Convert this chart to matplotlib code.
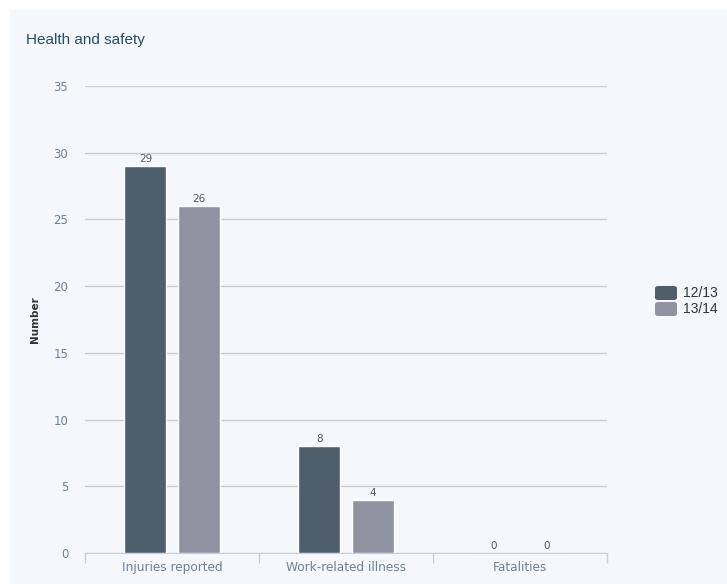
import numpy as np
import matplotlib.pyplot as plt
from matplotlib.patches import Rectangle, FancyBboxPatch

categories = ["Injuries reported", "Work-related illness", "Fatalities"]
series_names = ["12/13", "13/14"]
values_1213 = [29, 8, 0]
values_1314 = [26, 4, 0]
colors = ["#4e5f6b", "#8f939f"]

fig = plt.figure(figsize=(7.27, 5.84), dpi=100)
fig.patch.set_facecolor("white")
# light panel behind the chart
fig.patches.append(Rectangle((10 / 727, 0), 1, 1 - 10 / 584, transform=fig.transFigure,
                             facecolor="#f4f7fb", edgecolor="none", zorder=-10))

ax = fig.add_axes([85 / 727, 31 / 584, 522 / 727, 467 / 584])
ax.set_facecolor("none")

x = np.arange(len(categories))
w = 0.24
off = 0.153
for vals, col, sign in [(values_1213, colors[0], -1), (values_1314, colors[1], 1)]:
    bars = ax.bar(x + sign * off, vals, width=w, color=col, edgecolor="white", linewidth=1, zorder=3)
    for b, v in zip(bars, vals):
        ax.text(b.get_x() + b.get_width() / 2, v + 0.15, str(v), ha="center", va="bottom",
                fontsize=7.5, color="#555555", zorder=4)

ax.set_xlim(-0.5, 2.5)
ax.set_ylim(0, 35)
ax.set_yticks(range(0, 36, 5))
ax.yaxis.grid(True, color="#cccccc", linewidth=1)
ax.set_axisbelow(True)
for s in ["top", "right", "left"]:
    ax.spines[s].set_visible(False)
ax.spines["bottom"].set_color("#c0d0e0")
ax.tick_params(axis="y", length=0, labelsize=8.5, labelcolor="#6e8098", pad=12)

ax.set_xticks(x)
ax.set_xticklabels(categories)
ax.tick_params(axis="x", length=0, labelsize=8.7, labelcolor="#6e8098", pad=6)
ax.set_xticks([-0.5, 0.5, 1.5, 2.5], minor=True)
ax.tick_params(axis="x", which="minor", length=7, color="#c0d0e0", width=1)

ax.set_ylabel("Number", fontsize=7.5, fontweight="bold", color="#333333", labelpad=10)

fig.text(26 / 727, 1 - 40 / 584, "Health and safety", fontsize=11, color="#274b6d",
         va="center", family="Liberation Sans")

# legend
for i, (name, col) in enumerate(zip(series_names, colors)):
    yc = 1 - (293 + 16 * i) / 584
    fig.patches.append(FancyBboxPatch((655 / 727, yc - 7 / 584), 22 / 727, 14 / 584,
                                      boxstyle="round,pad=0,rounding_size=0.004",
                                      transform=fig.transFigure, facecolor=col, edgecolor="none"))
    fig.text(683 / 727, yc, name, fontsize=10, color="#333333", va="center",
             family="Liberation Sans")

fig.savefig("out.png", dpi=100)
